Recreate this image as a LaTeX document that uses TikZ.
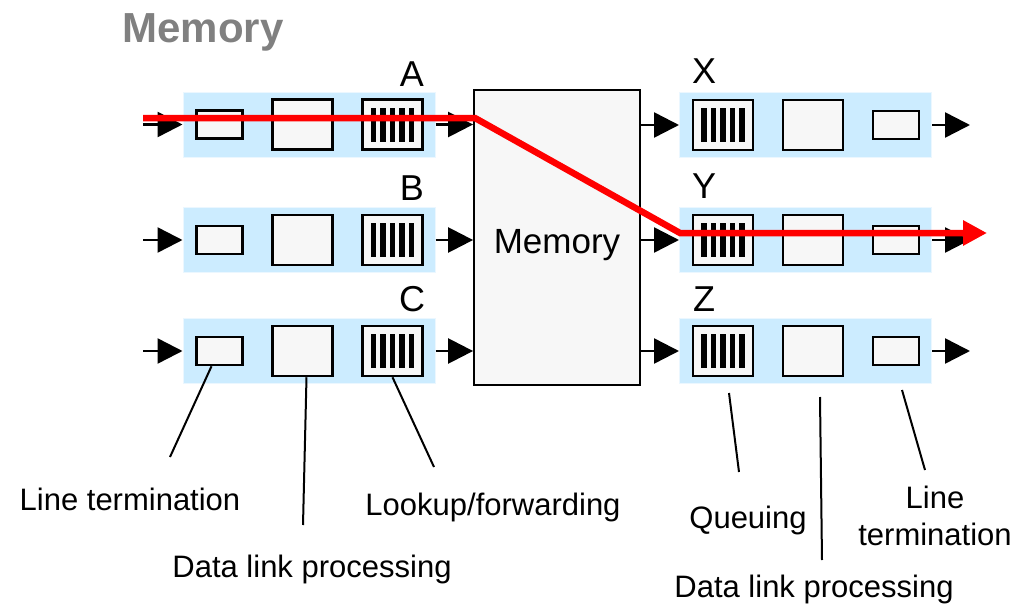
\documentclass[tikz,border=0pt]{standalone}
\usepackage{fontspec}
\setmainfont{Liberation Sans}
\usetikzlibrary{arrows.meta}
\definecolor{cardblue}{RGB}{204,236,255}
\definecolor{boxgray}{RGB}{247,247,247}
\definecolor{titlegray}{RGB}{128,128,128}
\tikzset{
  card/.style={fill=cardblue, draw=cardblue!40!white, line width=1pt,
    minimum width=252, minimum height=65, inner sep=0pt},
  part/.style={draw=black, fill=boxgray, line width=2.5pt, inner sep=0pt},
  linebox/.style={part, minimum width=46, minimum height=28},
  linkbox/.style={part, minimum width=60, minimum height=50},
  queuebox/.style={part, minimum width=60, minimum height=50,
    path picture={
      \foreach \dx in {-19,-9.5,0,9.5,19}
        \fill[black] ([xshift=\dx pt]path picture bounding box.center)
          +(-2.6,-17) rectangle +(2.6,17);}},
  membox/.style={draw=black, fill=boxgray, line width=1.8pt,
    minimum width=166, minimum height=295, inner sep=0pt},
  portlabel/.style={anchor=base, font=\fontsize{36}{40}\selectfont},
  caption/.style={anchor=base, font=\fontsize{31}{37}\selectfont, align=center, inner sep=0pt},
  flow/.style={line width=2.5pt, -{Triangle[length=25pt,width=25pt]}},
  route/.style={draw=red, line width=6.5pt, -{Triangle[length=24pt,width=24pt]}},
  leader/.style={line width=2pt},
}
\begin{document}
\begin{tikzpicture}[x=1pt,y=-1pt]
\useasboundingbox (0,0) rectangle (1021,605);

% title
\node[anchor=base, text=titlegray, font=\bfseries\fontsize{42}{46}\selectfont] (title) at (203,42) {Memory};

% shared memory
\node[membox] (mem) at (557,237.5) {};
\node[anchor=base, font=\fontsize{35}{40}\selectfont] (memtext) at (557,253) {Memory};

% input ports
\foreach \r/\y in {A/124.5,B/240,C/351}{
  \node[card] (in\r) at (309,\y) {};
  \node[linebox]  (inlt\r) at (219.5,\y) {};
  \node[linkbox]  (indl\r) at (302.5,\y) {};
  \node[queuebox] (inlu\r) at (392.5,\y) {};
  \coordinate (src\r) at (143,\y);
  \draw[flow] (src\r) -- (in\r.west);
  \draw[flow] (in\r.east) -- (in\r.east -| mem.west);
}
\node[portlabel] (labA) at (412,86) {A};
\node[portlabel] (labB) at (412,200) {B};
\node[portlabel] (labC) at (412,311) {C};

% output ports
\foreach \r/\y in {X/125,Y/240,Z/351}{
  \node[card] (out\r) at (805.5,\y) {};
  \node[queuebox] (outq\r) at (723,\y) {};
  \node[linkbox]  (outdl\r) at (813,\y) {};
  \node[linebox]  (outlt\r) at (896,\y) {};
  \coordinate (dst\r) at (970,\y);
  \draw[flow] (out\r.west -| mem.east) -- (out\r.west);
  \draw[flow] (out\r.east) -- (dst\r);
}
\node[portlabel] (labX) at (704,83) {X};
\node[portlabel] (labY) at (704,198) {Y};
\node[portlabel] (labZ) at (704,311) {Z};

% packet route A -> Y
\coordinate (r0) at (143,118);
\coordinate (r1) at (475,118);
\coordinate (r2) at (680,233);
\coordinate (r3) at (987,233);
\draw[route] (r0) -- (r1) -- (r2) -- (r3);

% captions
\node[caption] (cLT) at (130,510) {Line termination};
\node[caption] (cDL) at (312,577) {Data link processing};
\node[caption] (cLU) at (493,515) {Lookup/forwarding};
\node[caption] (cQ)  at (748,528) {Queuing};
\node[caption] (cLT2) at (935,545) {Line\\termination};
\node[caption] (cDL2) at (814,597) {Data link processing};

% leaders
\coordinate (eLT) at (170,457);
\coordinate (eDL) at (303,525);
\coordinate (eLU) at (434,467);
\coordinate (sQ)  at (729,393);
\coordinate (eQ)  at (739,472);
\coordinate (sDL2) at (820,397);
\coordinate (eDL2) at (822,560);
\coordinate (sLT2) at (902,390);
\coordinate (eLT2) at (925,470);
\draw[leader] ([xshift=-8pt]inltC.south) -- (eLT);
\draw[leader] ([xshift=4pt]indlC.south) -- (eDL);
\draw[leader] (inluC.south) -- (eLU);
\draw[leader] (sQ) -- (eQ);
\draw[leader] (sDL2) -- (eDL2);
\draw[leader] (sLT2) -- (eLT2);
\end{tikzpicture}
\end{document}
